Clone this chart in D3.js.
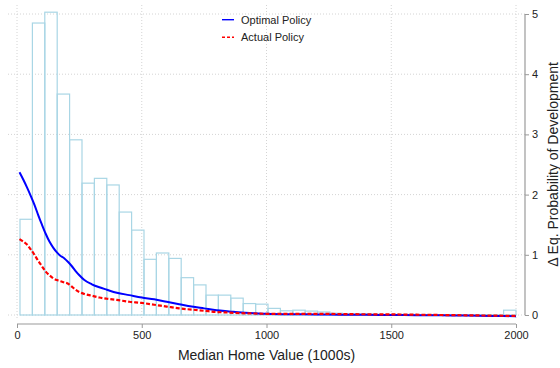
<!DOCTYPE html>
<html>
<head>
<meta charset="utf-8">
<script src="https://cdn.jsdelivr.net/npm/d3@7/dist/d3.min.js"></script>
<style>
  html, body { margin: 0; padding: 0; background: #fff; }
  svg { display: block; font-family: "Liberation Sans", Arial, Helvetica, sans-serif; }
</style>
</head>
<body>
<svg id="chart" width="560" height="368"></svg>
<script>
// Histogram of median home values (density, 40 equal bins)
const histLo = 12;
const histHi = 2000;
const histHeights = [
  1.59, 4.85, 5.03, 3.67, 2.91, 2.19, 2.27, 2.16, 1.71, 1.41,
  0.925, 1.03, 0.94, 0.62, 0.50, 0.33, 0.33, 0.28, 0.19, 0.18,
  0.11, 0.07, 0.08, 0.065, 0.05, 0.03, 0.02, 0.02, 0.015, 0.01,
  0.01, 0.01, 0.005, 0.005, 0.005, 0.005, 0.005, 0.005, 0.005, 0.08
];

// Change in equilibrium probability of development by home value
const homeValue = [10, 25, 40, 55, 70, 85, 100, 115, 130, 145, 160, 175, 190, 205, 220, 235, 250, 270, 300, 330, 360, 400, 450, 500, 550, 600, 650, 700, 750, 800, 850, 900, 950, 1000, 1100, 1200, 1300, 1400, 1500, 1600, 1700, 1800, 1900, 2000];
const optimalPolicy = [2.37, 2.25, 2.12, 1.98, 1.83, 1.66, 1.50, 1.35, 1.22, 1.12, 1.04, 0.98, 0.94, 0.88, 0.81, 0.73, 0.66, 0.58, 0.51, 0.46, 0.42, 0.37, 0.33, 0.29, 0.26, 0.22, 0.18, 0.14, 0.11, 0.08, 0.06, 0.04, 0.03, 0.02, 0.012, 0.01, 0.006, 0.003, 0.0, -0.003, -0.006, -0.01, -0.015, -0.02];
const actualPolicy = [1.26, 1.22, 1.17, 1.09, 1.00, 0.90, 0.81, 0.72, 0.66, 0.61, 0.58, 0.56, 0.54, 0.52, 0.47, 0.42, 0.38, 0.35, 0.32, 0.29, 0.27, 0.25, 0.22, 0.20, 0.17, 0.14, 0.11, 0.09, 0.07, 0.05, 0.04, 0.03, 0.025, 0.02, 0.02, 0.02, 0.015, 0.012, 0.01, 0.005, 0.0, -0.005, -0.01, -0.015];

const xTicks = [0, 500, 1000, 1500, 2000];
const yTicks = [0, 1, 2, 3, 4, 5];

const svg = d3.select("#chart");
const textColor = "#222";
const axisColor = "#9a9a9a";
const gridColor = "#d4d4d4";

const x = d3.scaleLinear().domain([0, 2000]).range([17, 516]);
const y = d3.scaleLinear().domain([0, 5]).range([315, 14]);

// grid
const grid = svg.append("g");
grid.selectAll("line.gy").data(yTicks).join("line")
  .attr("x1", 8).attr("x2", 525)
  .attr("y1", d => y(d)).attr("y2", d => y(d))
  .attr("stroke", gridColor).attr("stroke-width", 1)
  .attr("stroke-dasharray", "1,2");
grid.selectAll("line.gx").data(xTicks).join("line")
  .attr("x1", d => x(d)).attr("x2", d => x(d))
  .attr("y1", 5).attr("y2", 318)
  .attr("stroke", gridColor).attr("stroke-width", 1)
  .attr("stroke-dasharray", "1,2");

// histogram
const binW = (histHi - histLo) / histHeights.length;
const bins = histHeights.map((h, i) => ({ x0: histLo + i * binW, x1: histLo + (i + 1) * binW, h }));
svg.append("g").selectAll("rect").data(bins).join("rect")
  .attr("x", d => x(d.x0))
  .attr("width", d => x(d.x1) - x(d.x0))
  .attr("y", d => y(d.h))
  .attr("height", d => y(0) - y(d.h))
  .attr("fill", "none")
  .attr("stroke", "#a9d6e5")
  .attr("stroke-width", 1.2);

// policy curves
const line = (vals) => d3.line()
  .x((d, i) => x(homeValue[i]))
  .y(d => y(d))
  .curve(d3.curveMonotoneX)(vals);

svg.append("path").attr("d", line(optimalPolicy))
  .attr("fill", "none").attr("stroke", "#0000ff").attr("stroke-width", 2);
svg.append("path").attr("d", line(actualPolicy))
  .attr("fill", "none").attr("stroke", "#ff0000").attr("stroke-width", 2.2)
  .attr("stroke-dasharray", "4,2");

// x axis
const xAxis = svg.append("g").attr("transform", "translate(0,324)")
  .call(d3.axisBottom(x).tickValues(xTicks).tickSize(4).tickPadding(3).tickFormat(d3.format("d")));
xAxis.select(".domain").attr("stroke", axisColor).attr("stroke-width", 1.2).attr("d", `M${x(0)},0H${x(2000)}`);
xAxis.selectAll(".tick line").attr("stroke", axisColor);
xAxis.selectAll(".tick text").attr("fill", textColor).style("font-size", "11px").style("font-family", "Liberation Sans, Arial, sans-serif");

// right y axis
const yAxis = svg.append("g").attr("transform", "translate(525,0)")
  .call(d3.axisRight(y).tickValues(yTicks).tickSize(4).tickPadding(3).tickFormat(d3.format("d")));
yAxis.select(".domain").attr("stroke", axisColor).attr("stroke-width", 1.2).attr("d", `M0,${y(0)}V${y(5)}`);
yAxis.selectAll(".tick line").attr("stroke", axisColor);
yAxis.selectAll(".tick text").attr("fill", textColor).style("font-size", "11px").style("font-family", "Liberation Sans, Arial, sans-serif");

// axis titles
svg.append("text")
  .attr("x", x(1000)).attr("y", 360)
  .attr("text-anchor", "middle")
  .attr("fill", textColor)
  .style("font-size", "14px")
  .text("Median Home Value (1000s)");

svg.append("text")
  .attr("transform", `translate(558,${(y(0) + y(5)) / 2}) rotate(-90)`)
  .attr("text-anchor", "middle")
  .attr("fill", textColor)
  .style("font-size", "14px")
  .text("Δ Eq. Probability of Development");

// legend
const legend = svg.append("g");
const legendItems = [
  { label: "Optimal Policy", color: "#0000ff", dash: null, ly: 19.7 },
  { label: "Actual Policy", color: "#ff0000", dash: "3,2", ly: 37.3 }
];
legendItems.forEach(item => {
  legend.append("line")
    .attr("x1", 222).attr("x2", 234)
    .attr("y1", item.ly).attr("y2", item.ly)
    .attr("stroke", item.color).attr("stroke-width", 1.4)
    .attr("stroke-dasharray", item.dash);
  legend.append("text")
    .attr("x", 241).attr("y", item.ly + 4)
    .attr("fill", textColor)
    .style("font-size", "11px")
    .text(item.label);
});
</script>
</body>
</html>
